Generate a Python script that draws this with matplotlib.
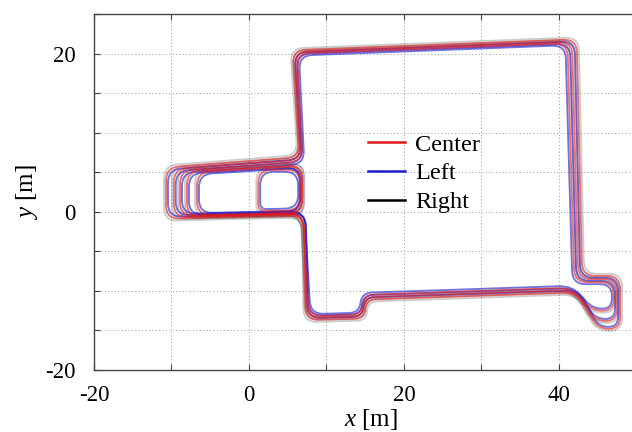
import numpy as np
import matplotlib
matplotlib.use("Agg")
import matplotlib.pyplot as plt
from matplotlib.path import Path
from matplotlib.patches import PathPatch
from matplotlib.lines import Line2D
from matplotlib.ticker import MultipleLocator, FuncFormatter

plt.rcParams["font.family"] = ["Liberation Serif", "DejaVu Serif"]
plt.rcParams["mathtext.fontset"] = "custom"
plt.rcParams["mathtext.rm"] = "Liberation Serif"
plt.rcParams["mathtext.it"] = "Liberation Serif:italic"

# ---- trajectory waypoints [m]: corner points of each lap, per series ----
# lap A (outermost turn at the west end, deepest loop at the east end)
center_lap_a = [(-4.0, -0.7), (7.1, -0.5), (7.3, -13.7), (14.9, -13.5), (15.1, -11.1),
                (42.4, -10.2), (45.0, -14.8), (47.9, -14.8), (47.9, -8.1), (43.0, -8.1),
                (42.3, 21.8), (5.6, 20.4), (6.5, 6.9), (-10.7, 5.6), (-10.7, -0.9), (-4.0, -0.7)]
left_lap_a = [(-4.0, -0.45), (7.35, -0.25), (7.55, -13.45), (14.65, -13.25), (14.85, -10.85),
              (42.55, -9.95), (45.15, -14.55), (47.65, -14.55), (47.65, -8.35), (42.75, -8.35),
              (42.05, 21.55), (5.85, 20.15), (6.75, 6.65), (-10.45, 5.35), (-10.45, -0.65), (-4.0, -0.45)]
right_lap_a = [(-4.0, -0.95), (6.85, -0.75), (7.05, -13.95), (15.15, -13.75), (15.35, -11.35),
               (42.25, -10.45), (44.85, -15.05), (48.15, -15.05), (48.15, -7.85), (43.25, -7.85),
               (42.55, 22.05), (5.35, 20.65), (6.25, 7.15), (-10.95, 5.85), (-10.95, -1.15), (-4.0, -0.95)]

# lap B
center_lap_b = [(-4.0, -0.5), (7.0, -0.3), (7.5, -13.4), (14.7, -13.2), (15.0, -10.8),
                (42.0, -9.9), (44.6, -13.8), (47.5, -13.8), (47.5, -8.5), (42.5, -8.5),
                (41.7, 21.5), (5.9, 20.2), (6.7, 6.6), (-9.7, 5.4), (-9.7, -0.7), (-4.0, -0.5)]
left_lap_b = [(-4.0, -0.25), (7.25, -0.05), (7.75, -13.15), (14.45, -12.95), (14.75, -10.55),
              (42.15, -9.65), (44.75, -13.55), (47.25, -13.55), (47.25, -8.75), (42.25, -8.75),
              (41.45, 21.25), (6.15, 19.95), (6.95, 6.35), (-9.45, 5.15), (-9.45, -0.45), (-4.0, -0.25)]
right_lap_b = [(-4.0, -0.75), (6.75, -0.55), (7.25, -13.65), (14.95, -13.45), (15.25, -11.05),
               (41.85, -10.15), (44.45, -14.05), (47.75, -14.05), (47.75, -8.25), (42.75, -8.25),
               (41.95, 21.75), (5.65, 20.45), (6.45, 6.85), (-9.95, 5.65), (-9.95, -0.95), (-4.0, -0.75)]

# lap C (innermost turn, shallowest loop at the east end)
center_lap_c = [(-4.0, -0.4), (6.9, -0.2), (7.7, -13.2), (14.5, -13.0), (14.8, -10.5),
                (41.6, -9.6), (44.2, -12.5), (47.1, -12.5), (47.1, -8.9), (42.0, -8.9),
                (41.1, 21.3), (6.2, 20.0), (6.9, 6.3), (-8.9, 5.2), (-8.9, -0.5), (-4.0, -0.4)]
left_lap_c = [(-4.0, -0.15), (7.15, 0.05), (7.95, -12.95), (14.25, -12.75), (14.55, -10.25),
              (41.75, -9.35), (44.35, -12.25), (46.85, -12.25), (46.85, -9.15), (41.75, -9.15),
              (40.85, 21.05), (6.45, 19.75), (7.15, 6.05), (-8.65, 4.95), (-8.65, -0.25), (-4.0, -0.15)]
right_lap_c = [(-4.0, -0.65), (6.65, -0.45), (7.45, -13.45), (14.75, -13.25), (15.05, -10.75),
               (41.45, -9.85), (44.05, -12.75), (47.35, -12.75), (47.35, -8.65), (42.25, -8.65),
               (41.35, 21.55), (5.95, 20.25), (6.65, 6.55), (-9.15, 5.45), (-9.15, -0.75), (-4.0, -0.65)]

# short loops around the west block
center_loop_e = [(-2.0, -0.5), (6.8, -0.3), (6.8, 5.9), (-8.0, 5.1), (-8.0, -0.6), (-2.0, -0.5)]
left_loop_e = [(-2.0, -0.25), (6.55, -0.05), (6.55, 5.65), (-7.75, 4.85), (-7.75, -0.35), (-2.0, -0.25)]
right_loop_e = [(-2.0, -0.75), (7.05, -0.55), (7.05, 6.15), (-8.25, 5.35), (-8.25, -0.85), (-2.0, -0.75)]

center_loop_f = [(-1.0, -0.3), (6.9, -0.1), (6.9, 5.8), (-6.7, 5.0), (-6.7, -0.4), (-1.0, -0.3)]
left_loop_f = [(-1.0, -0.05), (6.65, 0.15), (6.65, 5.55), (-6.45, 4.75), (-6.45, -0.15), (-1.0, -0.05)]
right_loop_f = [(-1.0, -0.55), (7.15, -0.35), (7.15, 6.05), (-6.95, 5.25), (-6.95, -0.65), (-1.0, -0.55)]

center_loop_g = [(3.0, 0.1), (6.6, 0.2), (6.6, 5.3), (1.2, 5.3), (1.2, 0.1), (3.0, 0.1)]
left_loop_g = [(3.0, 0.35), (6.35, 0.45), (6.35, 5.05), (1.45, 5.05), (1.45, 0.35), (3.0, 0.35)]
right_loop_g = [(3.0, -0.15), (6.85, -0.05), (6.85, 5.55), (0.95, 5.55), (0.95, -0.15), (3.0, -0.15)]

series_names = ["Center", "Left", "Right"]
series_laps = {
    "Center": [center_lap_a, center_lap_b, center_lap_c, center_loop_e, center_loop_f, center_loop_g],
    "Left": [left_lap_a, left_lap_b, left_lap_c, left_loop_e, left_loop_f, left_loop_g],
    "Right": [right_lap_a, right_lap_b, right_lap_c, right_loop_e, right_loop_f, right_loop_g],
}

x_ticks_labelled = [-20, 0, 20, 40]
y_ticks_labelled = [-20, 0, 20]

# ---- styling ----
series_color = {"Center": "#e01818", "Left": "#1c1cc8", "Right": "#000000"}
series_alpha = {"Center": 0.62, "Left": 0.62, "Right": 0.2}
line_width = 1.35
draw_order = ["Right", "Left", "Center"]
corner_radius = 1.7


def rounded_path(points, radius):
    """Polyline through the waypoints with its corners drawn as quadratic curves."""
    pts = np.asarray(points, dtype=float)
    verts = [pts[0]]
    codes = [Path.MOVETO]
    for i in range(1, len(pts) - 1):
        p_prev, p, p_next = pts[i - 1], pts[i], pts[i + 1]
        v_in, v_out = p - p_prev, p_next - p
        l_in, l_out = np.hypot(*v_in), np.hypot(*v_out)
        r = min(radius, 0.5 * l_in, 0.5 * l_out)
        verts += [p - v_in / l_in * r, p, p + v_out / l_out * r]
        codes += [Path.LINETO, Path.CURVE3, Path.CURVE3]
    verts.append(pts[-1])
    codes.append(Path.LINETO)
    return Path(verts, codes)


fig = plt.figure(figsize=(6.32, 4.32), dpi=100)
ax = fig.add_axes([94 / 632, 62 / 432, 554 / 632, 356 / 432])

for name in draw_order:
    for lap in series_laps[name]:
        ax.add_patch(PathPatch(rounded_path(lap, corner_radius), facecolor="none",
                               edgecolor=series_color[name], alpha=series_alpha[name],
                               lw=line_width, capstyle="round", joinstyle="round", zorder=3))

ax.set_xlim(-20, 51.5)
ax.set_ylim(-20, 25)

ax.xaxis.set_major_locator(MultipleLocator(10))
ax.yaxis.set_major_locator(MultipleLocator(5))
ax.xaxis.set_major_formatter(FuncFormatter(
    lambda v, _: f"{v:.0f}" if round(v) in x_ticks_labelled else ""))
ax.yaxis.set_major_formatter(FuncFormatter(
    lambda v, _: f"{v:.0f}" if round(v) in y_ticks_labelled else ""))
ax.tick_params(direction="in", length=4, width=0.8, color="#444444",
               top=True, right=True, labelsize=16.5)
ax.tick_params(axis="x", pad=11)
ax.tick_params(axis="y", pad=13)

ax.grid(True, linestyle=(0, (1, 2.5)), color="#9a9a9a", linewidth=0.7)
ax.set_axisbelow(True)
for sp in ax.spines.values():
    sp.set_color("#444444")
    sp.set_linewidth(1.0)

ax.set_xlabel(r"$\mathit{x}$ [m]", fontsize=18)
ax.set_ylabel(r"$\mathit{y}$ [m]", fontsize=18)
ax.xaxis.set_label_coords(0.5, -0.105)
ax.yaxis.set_label_coords(-0.098, 0.5)

handles = [Line2D([], [], color=series_color[n], lw=1.8) for n in series_names]
ax.legend(handles, series_names, loc="upper left", bbox_to_anchor=(0.494, 0.664),
          frameon=False, fontsize=17.5, handlelength=1.52, handletextpad=0.42,
          borderpad=0, borderaxespad=0, labelspacing=0.28)

fig.savefig("out.png", dpi=100)
